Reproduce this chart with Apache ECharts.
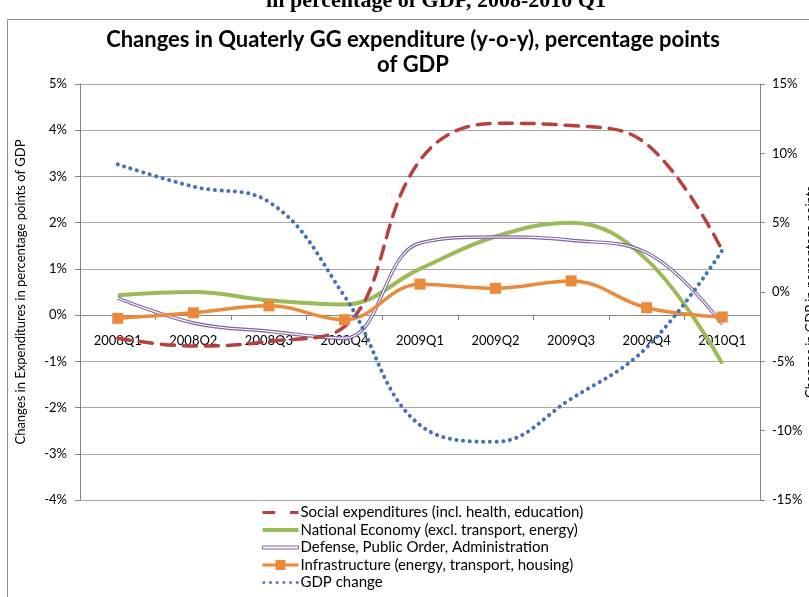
<!DOCTYPE html>
<html>
<head>
<meta charset="utf-8">
<script src="https://cdn.jsdelivr.net/npm/echarts@6/dist/echarts.min.js"></script>
<style>
  html, body { margin: 0; padding: 0; background: #fff; }
  #chart { width: 809px; height: 597px; }
</style>
</head>
<body>
<div id="chart"></div>
<script>
const quarters = ['2008Q1', '2008Q2', '2008Q3', '2008Q4', '2009Q1', '2009Q2', '2009Q3', '2009Q4', '2010Q1'];
// left axis, percentage points of GDP
const social = [-0.5, -0.67, -0.57, -0.25, 3.35, 4.15, 4.1, 3.7, 1.4];
const nationalEconomy = [0.43, 0.5, 0.32, 0.23, 1.0, 1.7, 2.0, 1.2, -1.05];
const defense = [0.37, -0.17, -0.35, -0.5, 1.56, 1.69, 1.62, 1.35, -0.2];
const infrastructure = [-0.07, 0.05, 0.2, -0.1, 0.67, 0.58, 0.74, 0.16, -0.04];
// right axis, GDP change in %
const gdpChange = [9.2, 7.6, 6.5, -0.3, -9.6, -10.8, -7.7, -4.0, 3.0];

const names = [
  'Social expenditures (incl. health, education)',
  'National Economy (excl. transport, energy)',
  'Defense, Public Order, Administration',
  'Infrastructure (energy, transport, housing)',
  'GDP change'
];

const font = 'Lato';
const red = '#b8403d', green = '#9bbb59', purple = '#8064a2', orange = '#ec8a3c', blue = '#4472b8';

const chart = echarts.init(document.getElementById('chart'));

const option = {
  animation: false,
  textStyle: { fontFamily: font },
  title: {
    text: 'Changes in Quaterly GG expenditure (y-o-y), percentage points\nof GDP',
    left: 408,
    top: 22,
    textAlign: 'center',
    textStyle: { fontFamily: font, fontSize: 22, fontWeight: 'bold', color: '#000', lineHeight: 25 }
  },
  graphic: [
    { type: 'line', shape: { x1: 7, y1: 19.5, x2: 809, y2: 19.5 }, style: { stroke: '#8c8c8c', lineWidth: 1 } },
    { type: 'line', shape: { x1: 7.5, y1: 19, x2: 7.5, y2: 597 }, style: { stroke: '#8c8c8c', lineWidth: 1 } },
    {
      type: 'text', x: 436, y: 12,
      style: {
        text: 'in percentage of GDP, 2008-2010 Q1', align: 'center', verticalAlign: 'bottom',
        font: 'bold 22px "Liberation Serif"', fill: '#000'
      }
    }
  ],
  grid: { left: 80, right: 49, top: 84, bottom: 97, containLabel: false, outerBoundsMode: 'none' },
  legend: {
    orient: 'vertical',
    left: 262,
    top: 504,
    height: 110,
    padding: 0,
    itemWidth: 36,
    itemHeight: 10,
    itemGap: 0.5,
    textStyle: { fontFamily: font, fontSize: 15, lineHeight: 17, color: '#000', padding: [0, 0, 0, -3] },
    data: [
      { name: names[0], icon: 'path://M1,3.5h12v3h-12z M27,3.5h8v3h-8z' },
      { name: names[1], icon: 'path://M0,3h36v4h-36z' },
      { name: names[2], icon: 'path://M0,3.5h36v3h-36z', itemStyle: { color: '#fff', borderColor: purple, borderWidth: 1 } },
      { name: names[3], icon: 'path://M0,3.5H13V0H23V3.5H36V6.5H23V10H13V6.5H0Z' },
      { name: names[4], icon: 'path://M0,4h2.6v2.6h-2.6z M6.6,4h2.6v2.6h-2.6z M13.2,4h2.6v2.6h-2.6z M19.8,4h2.6v2.6h-2.6z M26.4,4h2.6v2.6h-2.6z M33,4h2.6v2.6h-2.6z' }
    ]
  },
  xAxis: {
    type: 'category',
    data: quarters,
    boundaryGap: true,
    position: 'bottom',
    // sit the category axis on the 0% line of the left axis
    offset: -185,
    axisLine: { onZero: false, lineStyle: { color: '#868686', width: 1 } },
    axisTick: { show: true, length: 5, lineStyle: { color: '#868686' } },
    axisLabel: { fontFamily: font, fontSize: 13, color: '#000', margin: 19 }
  },
  yAxis: [
    {
      type: 'value',
      min: -4, max: 5, interval: 1,
      name: 'Changes in Expenditures in percentage points of GDP',
      nameLocation: 'middle',
      nameGap: 53,
      nameTextStyle: { fontFamily: font, fontSize: 13, color: '#000' },
      axisLine: { show: true, lineStyle: { color: '#868686' } },
      axisTick: { show: true, length: 5, lineStyle: { color: '#868686' } },
      axisLabel: { formatter: '{value}%', fontFamily: font, fontSize: 13, color: '#000', margin: 13 },
      splitLine: { show: true, lineStyle: { color: '#a6a6a6', width: 1 } }
    },
    {
      type: 'value',
      min: -15, max: 15, interval: 5,
      position: 'right',
      name: 'Changes in GDP in percentage points',
      nameLocation: 'middle',
      nameGap: 44,
      nameMoveOverlap: false,
      nameTextStyle: { fontFamily: font, fontSize: 13, color: '#000' },
      axisLine: { show: true, lineStyle: { color: '#868686' } },
      axisTick: { show: true, length: 5, lineStyle: { color: '#868686' } },
      axisLabel: { formatter: '{value}%', fontFamily: font, fontSize: 13, color: '#000', margin: 12 },
      splitLine: { show: false }
    }
  ],
  series: [
    {
      name: names[0], type: 'line', data: social, smooth: 0.4, symbol: 'none',
      color: red, lineStyle: { color: red, width: 3.5, type: [13, 9], cap: 'round' }, z: 3
    },
    {
      name: names[1], type: 'line', data: nationalEconomy, smooth: 0.4, symbol: 'none',
      color: green, lineStyle: { color: green, width: 4 }, z: 2
    },
    {
      name: names[2], type: 'line', data: defense, smooth: 0.4, symbol: 'none',
      color: purple, lineStyle: { color: purple, width: 3.4 }, z: 2
    },
    {
      name: 'defense-inner', type: 'line', data: defense, smooth: 0.4, symbol: 'none',
      color: '#fff', lineStyle: { color: '#fff', width: 1.2 }, z: 2, silent: true
    },
    {
      name: names[3], type: 'line', data: infrastructure, smooth: 0.4,
      symbol: 'rect', symbolSize: 11, showSymbol: true,
      color: orange, itemStyle: { color: orange, borderWidth: 0 },
      lineStyle: { color: orange, width: 3.5 }, z: 4
    },
    {
      name: names[4], type: 'line', yAxisIndex: 1, data: gdpChange, smooth: 0.4, symbol: 'none',
      color: blue, lineStyle: { color: blue, width: 4, type: [0.1, 6.6], cap: 'round' }, z: 5
    }
  ]
};

chart.setOption(option);
</script>
</body>
</html>
